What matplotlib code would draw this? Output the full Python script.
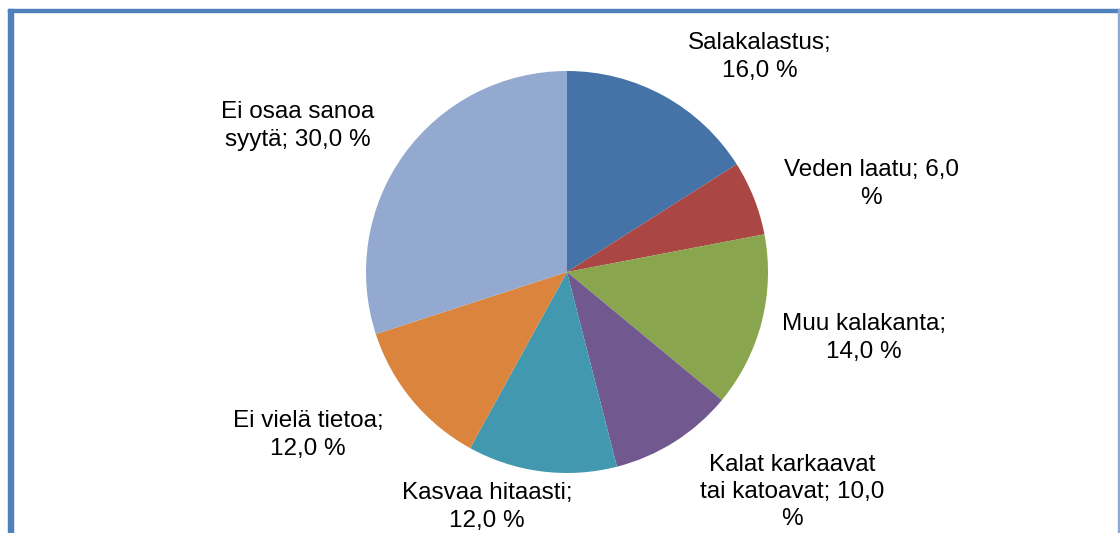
import matplotlib.pyplot as plt
from matplotlib.patches import Rectangle

# data
categories = [
    "Salakalastus",
    "Veden laatu",
    "Muu kalakanta",
    "Kalat karkaavat tai katoavat",
    "Kasvaa hitaasti",
    "Ei vielä tietoa",
    "Ei osaa sanoa syytä",
]
shares = [16.0, 6.0, 14.0, 10.0, 12.0, 12.0, 30.0]
label_texts = [
    "Salakalastus;\n16,0 %",
    "Veden laatu; 6,0\n%",
    "Muu kalakanta;\n14,0 %",
    "Kalat karkaavat\ntai katoavat; 10,0\n%",
    "Kasvaa hitaasti;\n12,0 %",
    "Ei vielä tietoa;\n12,0 %",
    "Ei osaa sanoa\nsyytä; 30,0 %",
]

# styling / layout
colors = ["#4572A7", "#AA4643", "#89A54E", "#71588F", "#4198AF", "#DB843D", "#93A9CF"]
label_pos_px = [(760, 57), (871, 184), (864, 338), (792, 492), (487, 507), (308, 435), (298, 126)]

W, H = 1120, 533
plt.rcParams["font.family"] = ["Liberation Sans", "DejaVu Sans"]

fig = plt.figure(figsize=(W / 100, H / 100), dpi=100)

# pie axes: center (567, 272) px, radius 201 px
cx, cy, r = 567, 272, 201
ax = fig.add_axes([(cx - r) / W, (H - cy - r) / H, 2 * r / W, 2 * r / H])
ax.pie(
    shares,
    colors=colors,
    startangle=90,
    counterclock=False,
    radius=1.0,
    wedgeprops=dict(linewidth=0),
)
ax.set_xlim(-1, 1)
ax.set_ylim(-1, 1)
ax.set_aspect("equal")
ax.axis("off")

for txt, (x, y) in zip(label_texts, label_pos_px):
    fig.text(x / W, 1 - y / H, txt, ha="center", va="center",
             fontsize=17.5, linespacing=1.3, color="black")

# frame (blue border on top and left, thin light line on right)
border = "#4F81BD"
fig.patches.append(Rectangle((8 / W, 1 - 12 / H), (W - 8) / W, 3 / H,
                             transform=fig.transFigure, color=border, zorder=5))
fig.patches.append(Rectangle((8 / W, 0), 5 / W, 1 - 9 / H,
                             transform=fig.transFigure, color=border, zorder=5))
fig.patches.append(Rectangle(((W - 2) / W, 0), 1.5 / W, 1 - 9 / H,
                             transform=fig.transFigure, color="#8EA9DB", zorder=5))

fig.savefig("out.png", dpi=100)
